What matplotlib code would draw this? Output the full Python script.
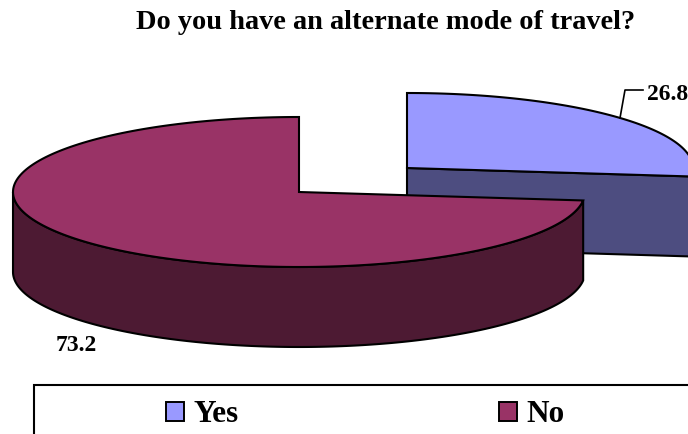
import numpy as np
import matplotlib
matplotlib.use('Agg')
import matplotlib.pyplot as plt
from matplotlib.patches import Polygon, Rectangle

categories = ['Yes', 'No']
values = [26.8, 73.2]
value_labels = ['26.8', '73.2']
top_colors = ['#9999FF', '#993366']
side_colors = ['#4D4D80', '#4D1A33']
title = 'Do you have an alternate mode of travel?'

# pie shape in pixels
RX, RY, DEPTH = 286, 75, 80
CENTERS = [(407, 168), (299, 192)]

plt.rcParams['font.family'] = ['Liberation Serif', 'DejaVu Serif']

fig = plt.figure(figsize=(6.88, 4.34), dpi=100)
ax = fig.add_axes([0, 0, 1, 1])
ax.set_xlim(0, 688)
ax.set_ylim(434, 0)
ax.axis('off')


def rim(cx, cy, a0, a1):
    # angles are clockwise from 12 o'clock
    t = np.radians(np.linspace(a0, a1, 200))
    return np.column_stack([cx + RX * np.sin(t), cy - RY * np.cos(t)])


split = values[0] / sum(values) * 360

# Yes slice, pulled out to the upper right
cx, cy = CENTERS[0]
top = rim(cx, cy, 0, split)
front = np.array([[cx, cy], top[-1], top[-1] + [0, DEPTH], [cx, cy + DEPTH]])
ax.add_patch(Polygon(front, fc=side_colors[0], ec='black', lw=1.5, joinstyle='miter'))
ax.add_patch(Polygon(np.vstack([[cx, cy], top]), fc=top_colors[0], ec='black', lw=1.5, joinstyle='miter'))

# No slice
cx, cy = CENTERS[1]
wall = rim(cx, cy, split, 270)
ax.add_patch(Polygon(np.vstack([wall, (wall + [0, DEPTH])[::-1]]), fc=side_colors[1],
                     ec='black', lw=1.5, joinstyle='miter'))
top = rim(cx, cy, split, 360)
ax.add_patch(Polygon(np.vstack([[cx, cy], top]), fc=top_colors[1], ec='black', lw=1.5, joinstyle='miter'))

# labels
ax.plot([620, 625, 643], [118, 90, 90], color='black', lw=1.2)
ax.text(647, 100, value_labels[0], fontsize=17, fontweight='bold', va='baseline', ha='left')
ax.text(56, 351, value_labels[1], fontsize=17, fontweight='bold', va='baseline', ha='left')

ax.text(386, 29, title, fontsize=20.4, fontweight='bold', va='baseline', ha='center')

# legend box runs off the picture on the right and at the bottom
ax.add_patch(Rectangle((34, 385), 700, 80, fc='white', ec='black', lw=1.5))
for name, color, bx in zip(categories, top_colors, [165.5, 498.5]):
    ax.add_patch(Rectangle((bx, 402), 18, 18.5, fc=color, ec='black', lw=1.4))
    ax.text(bx + 28, 422, name, fontsize=22.5, fontweight='bold', va='baseline', ha='left')

fig.savefig('out.png', dpi=100)
